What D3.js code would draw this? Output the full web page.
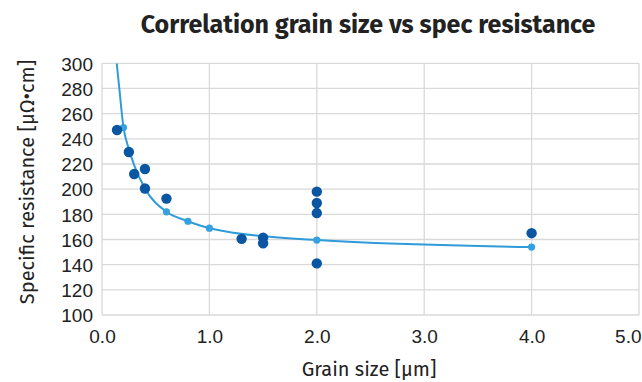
<!DOCTYPE html>
<html>
<head>
<meta charset="utf-8">
<script src="https://d3js.org/d3.v7.min.js"></script>
<style>
  body { margin: 0; background: #fff; }
  svg { font-family: "Fira Sans", "Open Sans", "Noto Sans", sans-serif; }
  .grid line { stroke: #d9d9d9; stroke-width: 1.3; }
  .tick text { fill: #222; font-size: 19px; }
</style>
</head>
<body>
<div id="chart"></div>
<script>
// measured points
var measX = [0.14, 0.25, 0.3, 0.4, 0.4, 0.6, 1.3, 1.5, 1.5, 2.0, 2.0, 2.0, 2.0, 4.0];
var measY = [247, 229.5, 212, 216, 200.5, 192.5, 160.5, 161.5, 157, 198, 189, 181, 141, 165];

// fitted curve and its marked points
var curveX = [0.137, 0.16, 0.2, 0.25, 0.3, 0.4, 0.6, 0.8, 1.0, 2.0, 4.0];
var curveY = [300, 281, 249, 232, 219, 200.5, 182, 174.5, 169, 159.5, 154];
var fitX = [0.2, 0.6, 0.8, 1.0, 2.0, 4.0];
var fitY = [249, 182, 174.5, 169, 159.5, 154];

var xTicks = [0, 1, 2, 3, 4, 5];
var yTicks = [100, 120, 140, 160, 180, 200, 220, 240, 260, 280, 300];

var width = 642, height = 382;
var plotLeft = 102, plotRight = 639, plotTop = 63.3, plotBottom = 315;

var svg = d3.select("#chart").append("svg")
  .attr("width", width)
  .attr("height", height);

var x = d3.scaleLinear().domain([0, 5]).range([plotLeft, plotRight]);
var y = d3.scaleLinear().domain([100, 300]).range([plotBottom, plotTop]);

/* grid */
var grid = svg.append("g").attr("class", "grid");
grid.selectAll(".h").data(yTicks).enter().append("line")
  .attr("x1", plotLeft).attr("x2", plotRight)
  .attr("y1", d => y(d)).attr("y2", d => y(d));
grid.selectAll(".v").data(xTicks).enter().append("line")
  .attr("x1", d => x(d)).attr("x2", d => x(d))
  .attr("y1", plotTop).attr("y2", plotBottom);

/* axes (labels only) */
svg.append("g")
  .attr("transform", `translate(0, ${plotBottom})`)
  .call(d3.axisBottom(x).tickValues(xTicks).tickFormat(d3.format(".1f")).tickSize(0).tickPadding(15))
  .call(g => g.select(".domain").remove())
  .call(g => g.selectAll(".tick:last-of-type text").attr("text-anchor", "end").attr("x", 2));

svg.append("g")
  .attr("transform", `translate(${plotLeft}, 0)`)
  .call(d3.axisLeft(y).tickValues(yTicks).tickSize(0).tickPadding(9))
  .call(g => g.select(".domain").remove())
  .call(g => g.selectAll(".tick text").attr("dy", "0.36em"));

/* clip */
svg.append("clipPath").attr("id", "clip")
  .append("rect").attr("x", plotLeft).attr("y", plotTop)
  .attr("width", plotRight - plotLeft).attr("height", plotBottom - plotTop);

/* fitted line */
var line = d3.line()
  .x((d, i) => x(curveX[i]))
  .y(d => y(d))
  .curve(d3.curveMonotoneX);

svg.append("path")
  .attr("clip-path", "url(#clip)")
  .attr("d", line(curveY))
  .attr("fill", "none")
  .attr("stroke", "#2f9bd9")
  .attr("stroke-width", 2);

svg.append("g").selectAll("circle")
  .data(fitY).enter().append("circle")
  .attr("cx", (d, i) => x(fitX[i]))
  .attr("cy", d => y(d))
  .attr("r", 3.6)
  .attr("fill", "#35a1de");

/* measured points */
svg.append("g").selectAll("circle")
  .data(measY).enter().append("circle")
  .attr("cx", (d, i) => x(measX[i]))
  .attr("cy", d => y(d))
  .attr("r", 5.2)
  .attr("fill", "#0a56a3");

/* titles */
svg.append("text")
  .attr("x", 368).attr("y", 33)
  .attr("text-anchor", "middle")
  .attr("font-size", "25px")
  .attr("font-weight", "bold")
  .attr("fill", "#222")
  .text("Correlation grain size vs spec resistance");

svg.append("text")
  .attr("x", 369).attr("y", 376)
  .attr("text-anchor", "middle")
  .attr("font-size", "20px")
  .attr("fill", "#222")
  .text("Grain size [μm]");

svg.append("text")
  .attr("transform", "translate(34, 182) rotate(-90)")
  .attr("text-anchor", "middle")
  .attr("font-size", "20px")
  .attr("fill", "#222")
  .text("Specific resistance [μΩ•cm]");
</script>
</body>
</html>
